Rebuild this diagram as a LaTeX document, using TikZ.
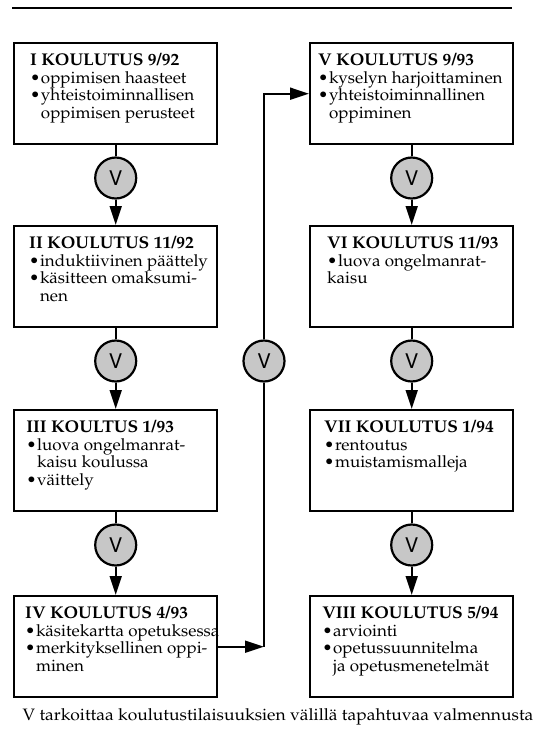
\documentclass[tikz,border=0pt]{standalone}
\usepackage[T1]{fontenc}
\usepackage{mathpazo}
\usepackage[scaled=0.92]{helvet}
\usepackage{graphicx}
\usetikzlibrary{arrows.meta,positioning}
\tikzset{>={Triangle[length=19pt,width=12pt]}}
\tikzset{kurssi/.style={draw,line width=2.4pt,inner sep=0pt,anchor=north west},
  vali/.style={circle,draw,line width=2.2pt,fill=black!22,minimum size=41pt,inner sep=0pt,font=\fontsize{22}{22}\selectfont\sffamily},
  yhteys/.style={line width=2pt}}
\newcommand{\pallo}{\makebox[10.5pt][l]{\textbullet}}
\newcommand{\sisa}{\hspace*{10.5pt}}
\newcommand{\kurssiteksti}[3]{\scalebox{1.03}[1]{\makebox[197.1pt][l]{\parbox[c][101pt][t]{260pt}{\fontsize{16.5}{17.4}\selectfont
  \leftskip=#1\relax\rightskip=0pt plus 1fil\relax\parindent=0pt\relax
  \vspace*{10pt}{\fontsize{17}{18}\selectfont\bfseries #2}\par\vspace{0.6pt}#3}}}}

\begin{document}
\begin{tikzpicture}[x=1pt,y=-1pt]
\useasboundingbox (0,0) rectangle (544,737);
\draw[line width=2.6pt] (12,8) -- (512,8);

\node[kurssi] (k1) at (13,42) {\kurssiteksti{15.5pt}{I KOULUTUS 9/92}{\pallo oppimisen haasteet\\\pallo yhteistoiminnallisen\\\sisa oppimisen perusteet}};
\node[kurssi] (k2) at (13,225) {\kurssiteksti{14.6pt}{II KOULUTUS 11/92}{\pallo induktiivinen päättely\\\pallo käsitteen omaksumi-\\\sisa nen}};
\node[kurssi] (k3) at (13,409) {\kurssiteksti{11.7pt}{III KOULTUS 1/93}{\pallo luova ongelmanrat-\\\sisa kaisu koulussa\\\pallo väittely}};
\node[kurssi] (k4) at (13,595) {\kurssiteksti{10.7pt}{IV KOULUTUS 4/93}{\pallo käsitekartta opetuksessa\\\pallo merkityksellinen oppi-\\\sisa minen}};
\node[kurssi] (k5) at (309,42) {\kurssiteksti{7.8pt}{V KOULUTUS 9/93}{\pallo kyselyn harjoittaminen\\\pallo yhteistoiminnallinen\\\sisa oppiminen}};
\node[kurssi] (k6) at (309,225) {\kurssiteksti{16.5pt}{VI KOULUTUS 11/93}{\pallo luova ongelmanrat-\\kaisu}};
\node[kurssi] (k7) at (309,409) {\kurssiteksti{13.6pt}{VII KOULUTUS 1/94}{\pallo rentoutus\\\pallo muistamismalleja}};
\node[kurssi] (k8) at (309,595) {\kurssiteksti{11.7pt}{VIII KOULUTUS 5/94}{\pallo arviointi\\\pallo opetussuunnitelma\\\sisa ja opetusmenetelmät}};

\node[vali,below=11pt of k1] (v1) {V};
\node[vali,below=11pt of k2] (v2) {V};
\node[vali,below=11pt of k3] (v3) {V};
\node[vali,below=11pt of k5] (v4) {V};
\node[vali,below=11pt of k6] (v5) {V};
\node[vali,below=11pt of k7] (v6) {V};
\node[vali] (v7) at (264,361) {V};

\draw[yhteys] (k1) -- (v1);
\draw[yhteys,->] (v1) -- (k2);
\draw[yhteys] (k2) -- (v2);
\draw[yhteys,->] (v2) -- (k3);
\draw[yhteys] (k3) -- (v3);
\draw[yhteys,->] (v3) -- (k4);
\draw[yhteys] (k5) -- (v4);
\draw[yhteys,->] (v4) -- (k6);
\draw[yhteys] (k6) -- (v5);
\draw[yhteys,->] (v5) -- (k7);
\draw[yhteys] (k7) -- (v6);
\draw[yhteys,->] (v6) -- (k8);

\draw[yhteys,->] (k4.east) -- (k4.east -| v7);
\draw[yhteys] (k4.east -| v7) -- (v7);
\draw[yhteys,->] (v7) |- (k5.west);

\node[font=\fontsize{16.5}{17}\selectfont] (selite) at (278,717) {\scalebox{1.056}[1]{V tarkoittaa koulutustilaisuuksien välillä tapahtuvaa valmennusta}};
\end{tikzpicture}
\end{document}
